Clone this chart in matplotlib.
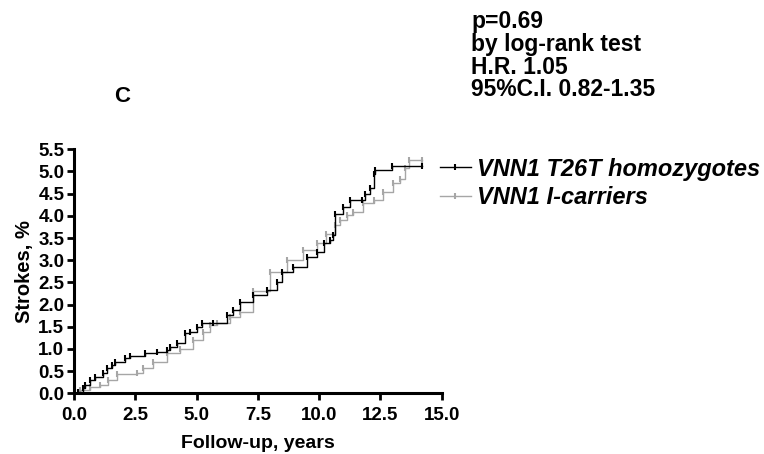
import numpy as np
import matplotlib
matplotlib.use('Agg')
import matplotlib.pyplot as plt

# Kaplan-Meier style cumulative stroke incidence
years_hom = [0.0, 0.18, 0.38, 0.45, 0.65, 0.86, 1.2, 1.33, 1.54, 1.67, 2.08, 2.29, 2.9,
             3.37, 3.78, 3.92, 4.19, 4.53, 4.73, 5.0, 5.21, 5.68, 6.23, 6.5, 6.78, 7.32,
             7.87, 8.27, 8.48, 8.95, 9.5, 9.9, 10.18, 10.45, 10.58, 10.65, 10.99, 11.27,
             11.74, 11.88, 12.08, 12.22, 12.29, 12.97, 14.19]
pct_hom = [0.0, 0.04, 0.12, 0.19, 0.3, 0.37, 0.45, 0.57, 0.64, 0.71, 0.79, 0.84, 0.9,
           0.94, 0.98, 1.05, 1.14, 1.36, 1.39, 1.5, 1.58, 1.58, 1.76, 1.88, 2.06, 2.21,
           2.33, 2.51, 2.74, 2.85, 3.08, 3.19, 3.38, 3.45, 3.57, 4.05, 4.2, 4.35,
           4.35, 4.5, 4.62, 4.95, 5.03, 5.13, 5.13]

years_car = [0.0, 0.24, 0.65, 1.06, 1.4, 1.74, 2.56, 2.83, 3.24, 3.78, 4.33, 4.87, 5.28,
             5.55, 5.82, 6.37, 6.78, 7.32, 8.0, 8.68, 9.36, 9.9, 10.3, 10.65, 10.86,
             11.13, 11.4, 11.81, 12.22, 12.62, 13.03, 13.31, 13.51, 13.65, 14.19]
pct_car = [0.0, 0.07, 0.14, 0.19, 0.3, 0.43, 0.45, 0.56, 0.71, 0.9, 0.99, 1.2, 1.39,
           1.54, 1.58, 1.73, 1.84, 2.3, 2.74, 3.0, 3.23, 3.38, 3.6, 3.8, 3.9,
           4.02, 4.09, 4.28, 4.35, 4.54, 4.73, 4.84, 5.07, 5.25, 5.25]

labels = ['VNN1 T26T homozygotes', 'VNN1 I-carriers']
xticks = [0.0, 2.5, 5.0, 7.5, 10.0, 12.5, 15.0]
yticks = np.arange(0, 5.51, 0.5)

plt.rcParams['font.family'] = ['Liberation Sans', 'DejaVu Sans']

fig = plt.figure(figsize=(7.64, 4.54), dpi=100)
ax = fig.add_axes([0.0969, 0.1337, 0.4812, 0.5375])

ax.step(years_car, pct_car, where='post', color='#a6a6a6', lw=1.0,
        marker='|', ms=5, mew=1.5, label=labels[1], zorder=2)
ax.step(years_hom, pct_hom, where='post', color='black', lw=1.0,
        marker='|', ms=5, mew=1.5, label=labels[0], zorder=3)

ax.set_xlim(0, 15)
ax.set_ylim(0, 5.5)
ax.set_xticks(xticks)
ax.set_yticks(yticks)
ax.set_xticklabels(['%.1f' % t for t in xticks], fontsize=13.5, fontweight='bold')
ax.set_yticklabels(['%.1f' % t for t in yticks], fontsize=13.5, fontweight='bold')
ax.tick_params(direction='out', length=5, width=2)
ax.tick_params(axis='x', pad=5)
ax.tick_params(axis='y', pad=2)
for s in ['top', 'right']:
    ax.spines[s].set_visible(False)
for s in ['left', 'bottom']:
    ax.spines[s].set_linewidth(2.2)

ax.set_xlabel('Follow-up, years', fontsize=14, fontweight='bold', labelpad=8)
ax.set_ylabel('Strokes, %', fontsize=14.5, fontweight='bold', labelpad=3)

h, l = ax.get_legend_handles_labels()
fig.legend(h[::-1], l[::-1], loc='upper left', bbox_to_anchor=(0.576, 0.653),
           frameon=False, handlelength=1.3, handletextpad=0.25, labelspacing=0.25,
           borderpad=0, borderaxespad=0,
           prop={'size': 17, 'weight': 'bold', 'style': 'italic'})

fig.text(0.16, 0.787, 'C', fontsize=16, fontweight='bold', ha='center', va='center')
fig.text(0.617, 0.978, 'p=0.69\nby log-rank test\nH.R. 1.05\n95%C.I. 0.82-1.35',
         fontsize=16.5, fontweight='bold', ha='left', va='top', linespacing=0.99)

fig.savefig('out.png', dpi=100)
